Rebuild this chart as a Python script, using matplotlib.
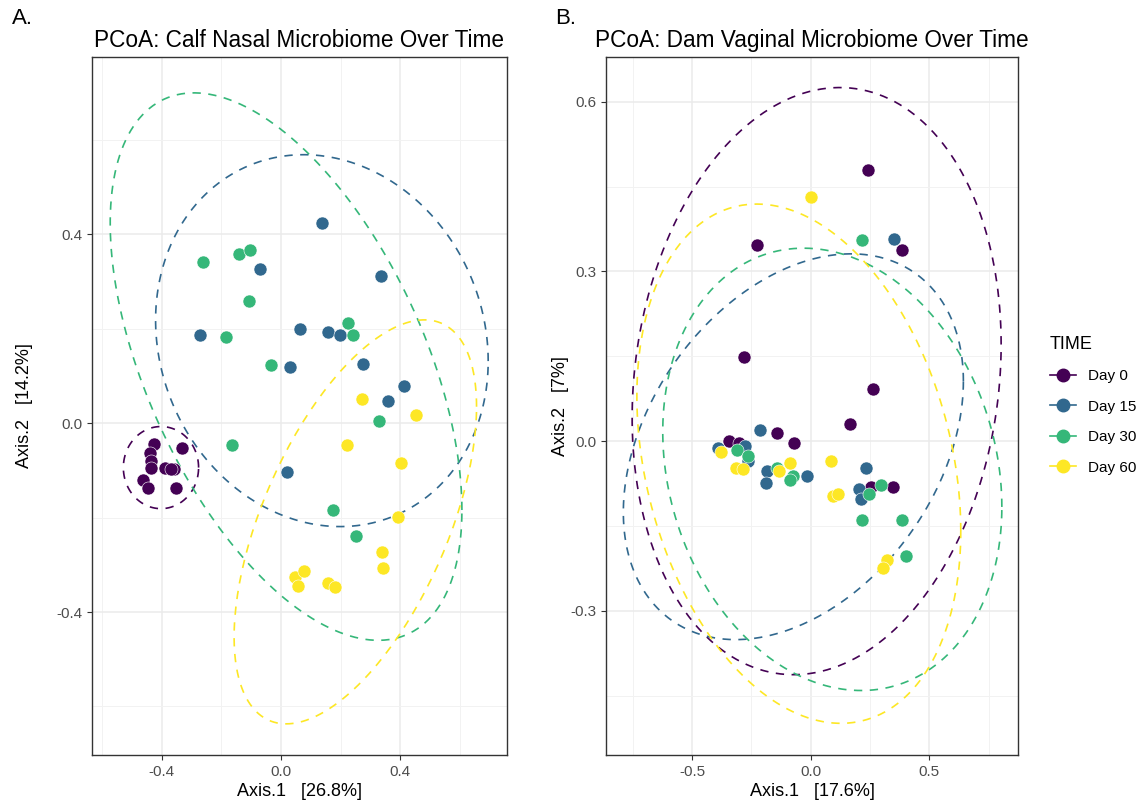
import numpy as np
import matplotlib
matplotlib.use("Agg")
import matplotlib.pyplot as plt
from matplotlib.lines import Line2D

plt.rcParams['font.family'] = ['Liberation Sans', 'DejaVu Sans']
plt.rcParams['axes.unicode_minus'] = False

# Time groups and viridis colours
groups = ['Day 0', 'Day 15', 'Day 30', 'Day 60']
colors = ['#440154', '#31688E', '#35B779', '#FDE725']

# Calf nasal PCoA scores (Axis.1, Axis.2) per group
calf_x = {
    'Day 0': [-0.427, -0.330, -0.438, -0.435, -0.435, -0.388, -0.357, -0.461, -0.444, -0.352, -0.370],
    'Day 15': [0.138, -0.071, 0.334, -0.271, 0.064, 0.156, 0.197, 0.029, 0.276, 0.413, 0.359, 0.020],
    'Day 30': [-0.262, -0.142, -0.105, -0.107, -0.185, -0.035, 0.225, 0.242, 0.328, -0.165, 0.174, 0.251],
    'Day 60': [0.273, 0.453, 0.220, 0.403, 0.392, 0.337, 0.340, 0.047, 0.077, 0.056, 0.156, 0.182],
}
calf_y = {
    'Day 0': [-0.045, -0.053, -0.064, -0.081, -0.095, -0.095, -0.098, -0.120, -0.138, -0.138, -0.097],
    'Day 15': [0.425, 0.327, 0.312, 0.188, 0.199, 0.193, 0.186, 0.119, 0.126, 0.078, 0.048, -0.103],
    'Day 30': [0.342, 0.358, 0.366, 0.260, 0.183, 0.124, 0.213, 0.187, 0.004, -0.046, -0.184, -0.239],
    'Day 60': [0.051, 0.017, -0.047, -0.084, -0.199, -0.273, -0.306, -0.325, -0.313, -0.345, -0.339, -0.346],
}

# Dam vaginal PCoA scores
dam_x = {
    'Day 0': [0.242, 0.385, -0.227, -0.280, 0.263, 0.165, -0.141, -0.069, -0.342, -0.300, 0.256, 0.346],
    'Day 15': [0.352, -0.212, -0.391, -0.278, -0.265, -0.184, -0.187, -0.014, 0.231, 0.203, 0.210],
    'Day 30': [0.214, -0.309, -0.262, -0.141, -0.075, -0.089, 0.245, 0.295, 0.217, 0.385, 0.402],
    'Day 60': [0.003, -0.377, -0.314, -0.286, -0.089, -0.135, 0.086, 0.092, 0.113, 0.322, 0.305],
}
dam_y = {
    'Day 0': [0.480, 0.337, 0.347, 0.149, 0.092, 0.031, 0.014, -0.003, 0.001, -0.003, -0.081, -0.081],
    'Day 15': [0.357, 0.019, -0.013, -0.009, -0.035, -0.053, -0.075, -0.061, -0.048, -0.084, -0.102],
    'Day 30': [0.356, -0.016, -0.027, -0.047, -0.061, -0.069, -0.093, -0.077, -0.139, -0.140, -0.204],
    'Day 60': [0.431, -0.019, -0.047, -0.050, -0.038, -0.053, -0.035, -0.097, -0.093, -0.210, -0.224],
}

# 95% ellipse summaries: centre, half-extents along each axis, correlation
calf_ell_cx = [-0.402, 0.137, 0.017, 0.249]
calf_ell_cy = [-0.094, 0.175, 0.120, -0.209]
calf_ell_sx = [0.126, 0.557, 0.589, 0.406]
calf_ell_sy = [0.087, 0.394, 0.580, 0.428]
calf_ell_r = [0.0, -0.11, -0.524, 0.57]

dam_ell_cx = [0.025, -0.073, 0.091, -0.050]
dam_ell_cy = [0.106, -0.010, -0.050, -0.040]
dam_ell_sx = [0.777, 0.716, 0.714, 0.682]
dam_ell_sy = [0.519, 0.341, 0.391, 0.459]
dam_ell_r = [0.125, 0.34, -0.17, -0.26]


def ellipse_path(cx, cy, sx, sy, r, n=200):
    t = np.linspace(0, 2 * np.pi, n)
    ex = cx + sx * np.cos(t)
    ey = cy + sy * (r * np.cos(t) + np.sqrt(1 - r ** 2) * np.sin(t))
    return ex, ey


def style_panel(ax, xlim, ylim, xmajor, xminor, ymajor, yminor):
    ax.set_xlim(*xlim)
    ax.set_ylim(*ylim)
    ax.set_xticks(xmajor)
    ax.set_xticks(xminor, minor=True)
    ax.set_yticks(ymajor)
    ax.set_yticks(yminor, minor=True)
    ax.grid(which='major', color='#EBEBEB', linewidth=1.1, zorder=0)
    ax.grid(which='minor', color='#F2F2F2', linewidth=0.7, zorder=0)
    ax.set_axisbelow(True)
    for s in ax.spines.values():
        s.set_color('#333333')
        s.set_linewidth(1.0)
    ax.tick_params(which='major', length=3.5, width=0.8, color='#333333',
                   labelsize=11, labelcolor='#4D4D4D')
    ax.tick_params(which='minor', length=0)


def draw_panel(ax, px, py, ecx, ecy, esx, esy, er):
    for i, g in enumerate(groups):
        ex, ey = ellipse_path(ecx[i], ecy[i], esx[i], esy[i], er[i])
        ax.plot(ex, ey, color=colors[i], linewidth=1.2, linestyle=(0, (5, 4.5)), zorder=2)
    for i, g in enumerate(groups):
        ax.scatter(px[g], py[g], s=88, color=colors[i], edgecolors='white',
                   linewidths=0.4, zorder=3)


fig = plt.figure(figsize=(11.43, 8.05), dpi=100)

axA = fig.add_axes([92 / 1143, 50 / 805, 415 / 1143, 698 / 805])
style_panel(axA, (-0.633, 0.757), (-0.703, 0.776),
            [-0.4, 0.0, 0.4], [-0.6, -0.2, 0.2, 0.6],
            [-0.4, 0.0, 0.4], [-0.6, -0.2, 0.2, 0.6])
draw_panel(axA, calf_x, calf_y, calf_ell_cx, calf_ell_cy, calf_ell_sx, calf_ell_sy, calf_ell_r)
axA.set_title('PCoA: Calf Nasal Microbiome Over Time', fontsize=16.3, pad=7)
axA.set_xlabel('Axis.1   [26.8%]', fontsize=13, labelpad=3)
axA.set_ylabel('Axis.2   [14.2%]', fontsize=13)
axA.yaxis.set_label_coords(-0.143, 0.5)

axB = fig.add_axes([606 / 1143, 50 / 805, 412 / 1143, 698 / 805])
style_panel(axB, (-0.862, 0.873), (-0.555, 0.679),
            [-0.5, 0.0, 0.5], [-0.75, -0.25, 0.25, 0.75],
            [-0.3, 0.0, 0.3, 0.6], [-0.45, -0.15, 0.15, 0.45])
draw_panel(axB, dam_x, dam_y, dam_ell_cx, dam_ell_cy, dam_ell_sx, dam_ell_sy, dam_ell_r)
axB.set_title('PCoA: Dam Vaginal Microbiome Over Time', fontsize=16.3, pad=7)
axB.set_xlabel('Axis.1   [17.6%]', fontsize=13, labelpad=3)
axB.set_ylabel('Axis.2   [7%]', fontsize=13)
axB.yaxis.set_label_coords(-0.090, 0.5)

fig.text(12 / 1143, 1 - 18 / 805, 'A.', fontsize=16, va='center', ha='left')
fig.text(555 / 1143, 1 - 18 / 805, 'B.', fontsize=16, va='center', ha='left')

handles = [Line2D([], [], color=c, marker='o', markersize=9, linestyle='-',
                  linewidth=1.2) for c in colors]
fig.legend(handles, groups, title='TIME', loc='upper left',
           bbox_to_anchor=(1036 / 1143, 1 - 322 / 805), frameon=False,
           fontsize=11, title_fontsize=13, handlelength=1.7, handletextpad=0.8,
           labelspacing=1.08, alignment='left')

fig.savefig('out.png', dpi=100)
